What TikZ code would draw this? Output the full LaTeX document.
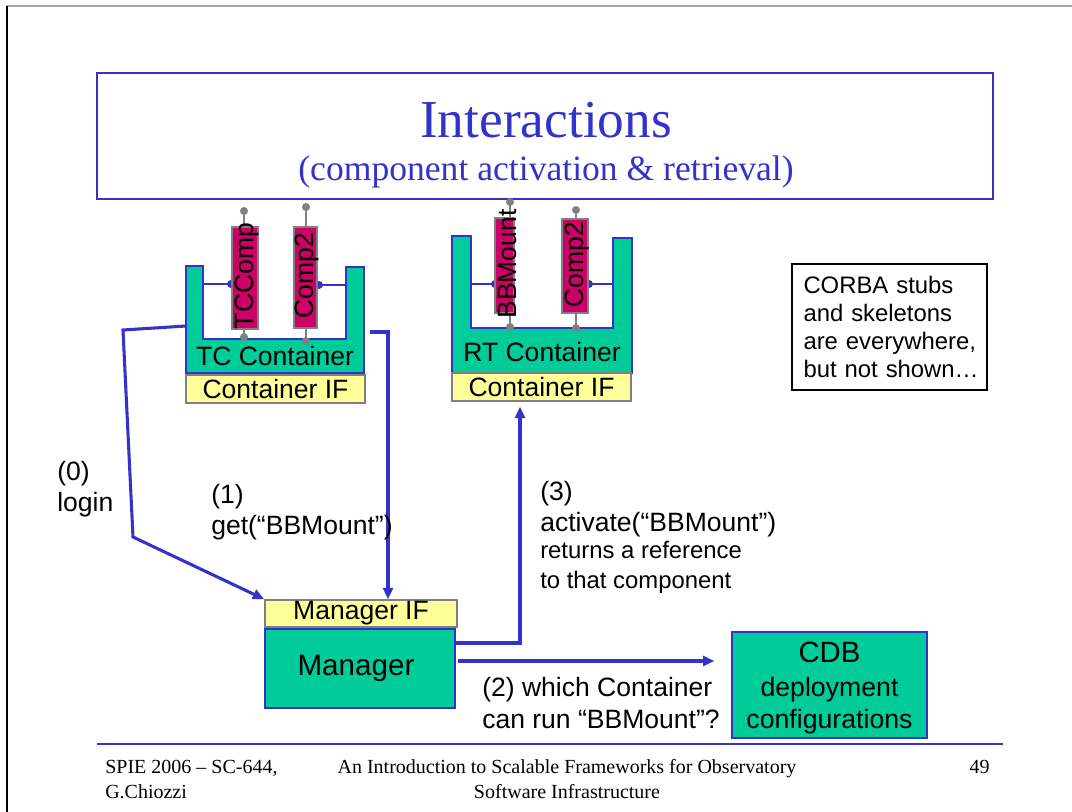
\documentclass[tikz,border=0pt]{standalone}
\usepackage{fontspec}
\setmainfont{Liberation Serif}
\newfontfamily\arialf{Liberation Sans}
\usetikzlibrary{arrows.meta,calc}
\definecolor{sblue}{HTML}{3333CC}
\definecolor{sgreen}{HTML}{00CC99}
\definecolor{smag}{HTML}{CC0066}
\definecolor{syellow}{HTML}{FFFF99}
\definecolor{sgray}{HTML}{808080}
\begin{document}
\begin{tikzpicture}[x=0.75pt,y=-0.75pt,
  arr/.style={draw=sblue, line width=2.3pt, -{Triangle[length=8.5pt,width=7.5pt]}},
  ifbox/.style={draw=sgray, line width=1.3pt, fill=syellow, inner sep=0pt, font=\arialf\fontsize{19.9}{24}\selectfont},
  greenbox/.style={draw=sblue, line width=1pt, fill=sgreen, inner sep=0pt},
  compbox/.style={draw=sgray, line width=1.3pt, fill=smag, inner sep=0pt},
  comptext/.style={rotate=90, font=\arialf\fontsize{19.9}{24}\selectfont, inner sep=0pt},
  cont/.style={fill=sgreen, draw=sblue, line width=1pt},
  pin/.style={draw=sgray, line width=1.3pt},
  pindot/.style={circle, fill=sgray, inner sep=0pt, minimum size=6pt},
  bdot/.style={circle, fill=sblue, inner sep=0pt, minimum size=6pt},
  wire/.style={draw=sblue, line width=1pt},
  lbl/.style={font=\arialf\fontsize{19.9}{23.3}\selectfont, align=left, inner sep=0pt, anchor=west},
  small/.style={font=\arialf\fontsize{17.9}{22.5}\selectfont, align=left, inner sep=0pt, anchor=west},
  foot/.style={font=\fontsize{15}{18.75}\selectfont, inner sep=0pt},
]
\useasboundingbox (0,0) rectangle (1072,812);
% page frame
\draw[black!35, line width=0.8pt] (7,6) -- (1072,6);
\draw[black, line width=1pt] (7,6) -- (7,812);

% title
\node[draw=sblue, line width=1.2pt, minimum width=896*0.75pt, minimum height=126*0.75pt, inner sep=0pt] (title) at (545,136) {};
\node[text=sblue, font=\fontsize{40}{48}\selectfont, inner sep=0pt] (t1) at (546,120) {Interactions};
\node[text=sblue, font=\fontsize{26.7}{32}\selectfont, inner sep=0pt] (t2) at (546,172) {(component activation \& retrieval)};

% TC container
\filldraw[cont] (186,266) -- (203,266) -- (203,339) -- (346,339) -- (346,267) -- (364,267) -- (364,373) -- (186,373) -- cycle;
\node[font=\arialf\fontsize{19.9}{24}\selectfont, inner sep=0pt] (tccont) at (275,356) {TC Container};
\node[ifbox, minimum width=179*0.75pt, minimum height=28*0.75pt] (tcif) at (275.5,389) {Container IF};
% TC components
\draw[pin] (244,211) -- (244,337);
\draw[pin] (306,207) -- (306,341);
\node[pindot] (p1) at (244,211) {};
\node[pindot] (p2) at (244,337) {};
\node[pindot] (p3) at (306,207) {};
\node[pindot] (p4) at (306,341) {};
\node[bdot] (d1) at (231,284) {};
\node[bdot] (d2) at (319,285) {};
\draw[wire] (203,284) -- (d1.center);
\draw[wire] (346,285) -- (d2.center);
\node[compbox, minimum width=26*0.75pt, minimum height=102*0.75pt] (tccomp) at (245,278) {};
\node[compbox, minimum width=23*0.75pt, minimum height=101*0.75pt] (tccomp2) at (305.5,277.5) {};
\node[comptext] (tccompt) at (247,276) {TCComp};
\node[comptext] (tccomp2t) at (307,276) {Comp2};

% RT container
\filldraw[cont] (452,236) -- (471,236) -- (471,328) -- (613,328) -- (613,238) -- (632,238) -- (632,373) -- (452,373) -- cycle;
\node[font=\arialf\fontsize{19.9}{24}\selectfont, inner sep=0pt] (rtcont) at (542,352) {RT Container};
\node[ifbox, minimum width=179*0.75pt, minimum height=28*0.75pt] (rtif) at (541.5,387) {Container IF};
% RT components
\draw[pin] (510,202) -- (510,327);
\draw[pin] (576,210) -- (576,328);
\node[pindot] (p5) at (510,202) {};
\node[pindot] (p6) at (510,327) {};
\node[pindot] (p7) at (576,210) {};
\node[pindot] (p8) at (576,328) {};
\node[bdot] (d3) at (495,284) {};
\node[bdot] (d4) at (589,284) {};
\draw[wire] (471,284) -- (d3.center);
\draw[wire] (613,284) -- (d4.center);
\node[compbox, minimum width=19*0.75pt, minimum height=95*0.75pt] (bbm) at (504.5,265.5) {};
\node[compbox, minimum width=26*0.75pt, minimum height=94*0.75pt] (rtcomp2) at (575,266) {};
\node[comptext] (bbmt) at (507,264) {BBMount};
\node[comptext] (rtcomp2t) at (577,265) {Comp2};

% note
\node[draw=black, line width=0.8pt, minimum width=195*0.75pt, minimum height=126*0.75pt, inner sep=0pt, text width=180*0.75pt, align=left, font=\arialf\fontsize{17.9}{21.2}\selectfont] (note) at (889.5,327) {\hspace*{3pt}CORBA stubs\\\hspace*{3pt}and skeletons\\\hspace*{3pt}are everywhere,\\\hspace*{3pt}but not shown…};

% manager
\node[ifbox, minimum width=192*0.75pt, minimum height=27*0.75pt] (mgrif) at (361,613.5) {Manager IF};
\node[greenbox, minimum width=190*0.75pt, minimum height=79*0.75pt, font=\arialf\fontsize{22.2}{26}\selectfont] (mgr) at (360,668.5) {\hspace*{-6pt}Manager};

% CDB
\node[greenbox, minimum width=195*0.75pt, minimum height=106*0.75pt, inner sep=0pt] (cdb) at (829.5,685) {};
\node[align=center, inner sep=0pt, font=\arialf\fontsize{20}{24}\selectfont] (cdbt) at (829.5,688) {{\fontsize{22}{26}\selectfont CDB}\\[2pt]deployment\\configurations};

% arrows
\coordinate (a0s) at (186,326);
\coordinate (a0b) at (123,330);
\coordinate (a0c) at (133,537);
\draw[arr] (a0s) -- (a0b) -- (a0c) -- (mgrif.north west);
\coordinate (a1s) at (370,332);
\coordinate (a1b) at (388,332);
\draw[arr] (a1s) -- (a1b) -- (a1b |- mgrif.north);
\coordinate (a3b) at (520,643);
\draw[arr, shorten >=3.75pt] (a3b -| mgr.east) -- (a3b) -- (a3b |- rtif.south);
\coordinate (a2s) at (458,661);
\draw[arr, shorten >=12.75pt] (a2s) -- (a2s -| cdb.west);

% labels
\node[lbl] (l0) at (57,489.5) {(0)\\login};
\node[lbl] (l1) at (211,512) {(1)\\get(“BBMount”)};
\node[lbl] (l3) at (540,509) {(3)\\activate(“BBMount”)};
\node[small] (l3b) at (540,567) {returns a reference\\to that component};
\node[lbl] (l2) at (482,703) {(2) which Container\\can run “BBMount”?};

% footer
\draw[sblue, line width=1.5pt] (97,744) -- (1003,744);
\node[foot, anchor=west, align=left] (f1) at (105,779.5) {SPIE 2006 – SC-644,\\G.Chiozzi};
\node[foot, align=center] (f2) at (567,779.5) {An Introduction to Scalable Frameworks for Observatory\\Software Infrastructure};
\node[foot, anchor=east] (f3) at (990,767) {49};
\end{tikzpicture}
\end{document}
